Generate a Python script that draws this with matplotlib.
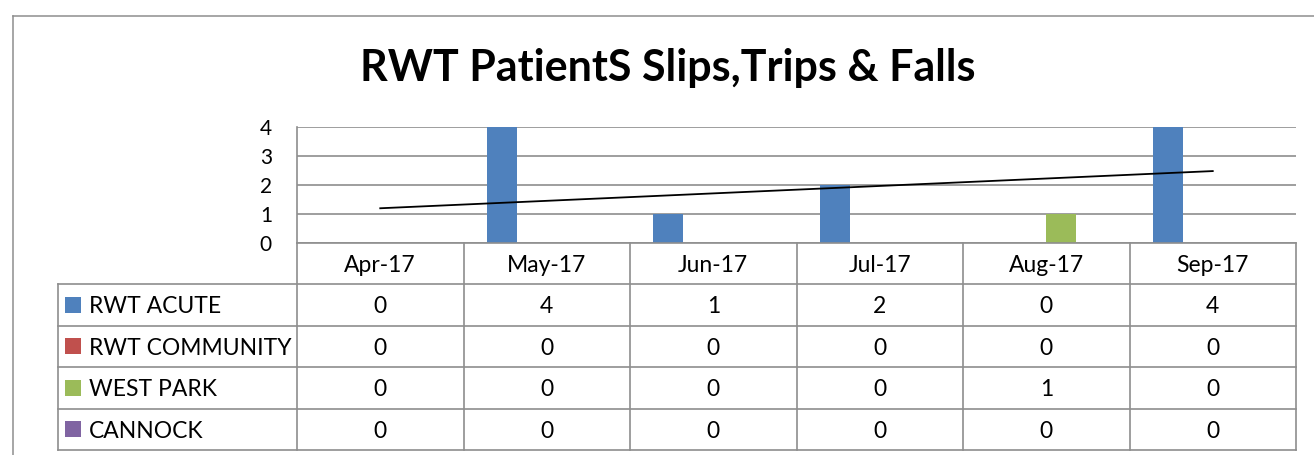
import numpy as np
import matplotlib.pyplot as plt
from matplotlib.lines import Line2D

plt.rcParams['font.family'] = ['Lato', 'DejaVu Sans']

# Data
months = ["Apr-17", "May-17", "Jun-17", "Jul-17", "Aug-17", "Sep-17"]
series_names = ["RWT ACUTE", "RWT COMMUNITY", "WEST PARK", "CANNOCK"]
rwt_acute = [0, 4, 1, 2, 0, 4]
rwt_community = [0, 0, 0, 0, 0, 0]
west_park = [0, 0, 0, 0, 1, 0]
cannock = [0, 0, 0, 0, 0, 0]
yticks = [0, 1, 2, 3, 4]

series_values = [rwt_acute, rwt_community, west_park, cannock]
colors = ["#4F81BD", "#C0504D", "#9BBB59", "#8064A2"]
grid_c = "#8E8E8E"

W, H = 1314, 455
fig = plt.figure(figsize=(W / 100, H / 100), dpi=100)


def fx(px):
    return px / W


def fy(py):
    return 1 - py / H


# outer chart border (only left and top are visible in the crop)
fig.add_artist(Line2D([fx(13), fx(13)], [0, fy(16)], color=grid_c, lw=1.1))
fig.add_artist(Line2D([fx(13), 1], [fy(16), fy(16)], color=grid_c, lw=1.1))

fig.text(fx(668), fy(68), "RWT PatientS Slips,Trips & Falls", ha="center", va="center",
         fontsize=31, fontweight="bold")

# plot area
left, right, top, bottom = 297, 1296, 127, 242.7
ax = fig.add_axes([fx(left), fy(bottom), fx(right - left), (bottom - top) / H])

x = np.arange(len(months))
bw = 0.18
for i, (name, vals) in enumerate(zip(series_names, series_values)):
    ax.bar(x + (i - 1.5) * bw, vals, width=bw, color=colors[i], zorder=3)

# linear trendline for RWT ACUTE
k, b = np.polyfit(x, rwt_acute, 1)
ax.plot([x[0], x[-1]], [k * x[0] + b, k * x[-1] + b], color="black", lw=1.3, zorder=4)

ax.set_xlim(-0.5, len(months) - 0.5)
ax.set_ylim(0, 4)
ax.set_yticks(yticks)
ax.set_yticklabels([str(t) for t in yticks], fontsize=15)
ax.tick_params(axis="y", length=0, pad=18)
ax.set_xticks([])
for t in yticks:
    ax.axhline(t, color=grid_c, lw=1.2, zorder=1)
for s in ["top", "right", "bottom"]:
    ax.spines[s].set_visible(False)
ax.spines["left"].set_color(grid_c)
ax.spines["left"].set_linewidth(1.2)

# data table under the plot
legend_w = (297 - 58) / ((right - left) / len(months))
tab_bottom = 450
tax = fig.add_axes([fx(58), fy(tab_bottom), fx(right - 58), (tab_bottom - bottom) / H])
tax.set_xlim(-0.5 - legend_w, len(months) - 0.5)
tax.set_ylim(5, 0)
tax.axis("off")

lk = dict(color=grid_c, lw=1.2, clip_on=False)
tax.plot([-0.5, len(months) - 0.5], [0, 0], **lk)
for r in range(1, 6):
    tax.plot([-0.5 - legend_w, len(months) - 0.5], [r, r], **lk)
for c in range(len(months) + 1):
    tax.plot([c - 0.5, c - 0.5], [0, 5], **lk)
tax.plot([-0.5 - legend_w, -0.5 - legend_w], [1, 5], **lk)

fs = 16.5
for j, m in enumerate(months):
    tax.text(j, 0.55, m, ha="center", va="center", fontsize=fs)
for i, (name, vals) in enumerate(zip(series_names, series_values)):
    row = i + 1.55
    tax.scatter([-0.5 - legend_w + 0.09], [row - 0.05], marker="s", s=120, color=colors[i],
                linewidths=0, clip_on=False)
    tax.text(-0.5 - legend_w + 0.187, row, name, ha="left", va="center", fontsize=fs)
    for j, v in enumerate(vals):
        tax.text(j, row, str(v), ha="center", va="center", fontsize=fs)

fig.savefig("out.png", dpi=100)
